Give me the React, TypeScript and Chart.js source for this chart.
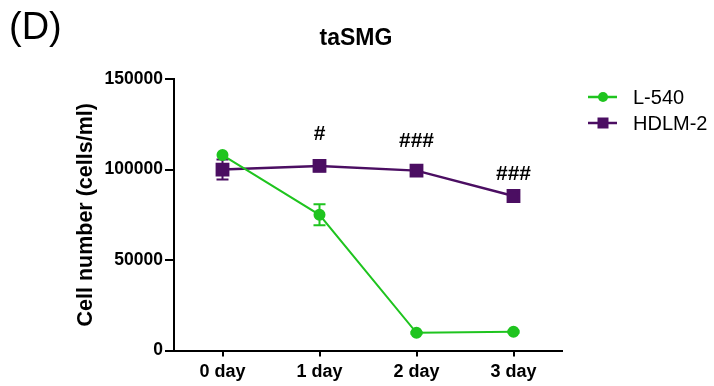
import { useEffect, useRef } from 'react';
import { Chart, registerables } from 'chart.js';

Chart.register(...registerables);

const categories = ['0 day', '1 day', '2 day', '3 day'];
const l540Values = [108000, 75000, 9800, 10400];
const l540Errors = [0, 5800, 500, 600];
const hdlmValues = [100000, 102000, 99400, 85400];
const hdlmErrors = [5500, 3000, 2000, 1500];
const sigLabels = ['', '#', '###', '###'];
const sigValues = [0, 119400, 115900, 97500];
const yTicks = [0, 50000, 100000, 150000];

const FONT = '"Liberation Sans", Arial, sans-serif';
const GREEN = '#1fc41f';
const PURPLE = '#4b0e62';

const errorBarPlugin = {
  id: 'errorBars',
  beforeDatasetsDraw(chart: any) {
    const ctx = chart.ctx;
    const y = chart.scales.y;
    chart.data.datasets.forEach((ds: any, i: number) => {
      const meta = chart.getDatasetMeta(i);
      ctx.save();
      ctx.strokeStyle = ds.borderColor;
      ctx.lineWidth = 2;
      meta.data.forEach((pt: any, j: number) => {
        const e = ds.errors[j];
        if (!e) return;
        const v = ds.data[j];
        const top = y.getPixelForValue(v + e);
        const bot = y.getPixelForValue(v - e);
        ctx.beginPath();
        ctx.moveTo(pt.x, top);
        ctx.lineTo(pt.x, bot);
        ctx.moveTo(pt.x - 6, top);
        ctx.lineTo(pt.x + 6, top);
        ctx.moveTo(pt.x - 6, bot);
        ctx.lineTo(pt.x + 6, bot);
        ctx.stroke();
      });
      ctx.restore();
    });
  },
};

const annotationPlugin = {
  id: 'annotations',
  afterDatasetsDraw(chart: any) {
    const ctx = chart.ctx;
    const x = chart.scales.x;
    const y = chart.scales.y;
    ctx.save();
    ctx.fillStyle = '#000';
    ctx.font = `bold 21px ${FONT}`;
    ctx.textAlign = 'center';
    ctx.textBaseline = 'middle';
    sigLabels.forEach((s, j) => {
      if (!s) return;
      ctx.fillText(s, x.getPixelForValue(j), y.getPixelForValue(sigValues[j]));
    });
    ctx.restore();
  },
};

const textPlugin = {
  id: 'texts',
  afterDraw(chart: any) {
    const ctx = chart.ctx;
    ctx.save();
    ctx.fillStyle = '#000';
    ctx.textBaseline = 'middle';
    ctx.textAlign = 'left';
    ctx.font = `38px ${FONT}`;
    ctx.fillText('(D)', 9, 29);
    ctx.textAlign = 'center';
    ctx.font = `bold 23px ${FONT}`;
    ctx.fillText('taSMG', 356, 39);
    // legend
    ctx.textAlign = 'left';
    ctx.font = `20px ${FONT}`;
    chart.data.datasets.forEach((ds: any, i: number) => {
      const cy = 97 + i * 26;
      ctx.strokeStyle = ds.borderColor;
      ctx.fillStyle = ds.borderColor;
      ctx.lineWidth = 2.5;
      ctx.beginPath();
      ctx.moveTo(588, cy);
      ctx.lineTo(617, cy);
      ctx.stroke();
      ctx.beginPath();
      if (ds.pointStyle === 'circle') {
        ctx.arc(603, cy, 5, 0, Math.PI * 2);
      } else {
        ctx.rect(597.5, cy - 5.5, 11, 11);
      }
      ctx.fill();
      ctx.fillStyle = '#000';
      ctx.fillText(ds.label, 633, cy + 1);
    });
    ctx.restore();
  },
};

export default function App() {
  const canvasRef = useRef<HTMLCanvasElement | null>(null);

  useEffect(() => {
    const canvas = canvasRef.current;
    if (!canvas) return;
    const chart = new Chart(canvas, {
      type: 'line',
      data: {
        labels: categories,
        datasets: [
          {
            label: 'L-540',
            data: l540Values,
            errors: l540Errors,
            borderColor: GREEN,
            backgroundColor: GREEN,
            pointBackgroundColor: GREEN,
            pointBorderColor: GREEN,
            pointStyle: 'circle',
            pointRadius: 5,
            borderWidth: 2,
            tension: 0,
          } as any,
          {
            label: 'HDLM-2',
            data: hdlmValues,
            errors: hdlmErrors,
            borderColor: PURPLE,
            backgroundColor: PURPLE,
            pointBackgroundColor: PURPLE,
            pointBorderColor: PURPLE,
            pointStyle: 'rect',
            pointRadius: 8,
            borderWidth: 2.5,
            tension: 0,
          } as any,
        ],
      },
      options: {
        responsive: false,
        animation: false,
        devicePixelRatio: 1,
        layout: { padding: { left: 69, top: 79, right: 152, bottom: 0 } },
        plugins: {
          legend: { display: false },
          title: { display: false },
          tooltip: { enabled: false },
        },
        scales: {
          x: {
            type: 'category',
            offset: true,
            afterFit: (s: any) => {
              s.height = 35.4;
            },
            grid: {
              display: true,
              drawOnChartArea: false,
              drawTicks: true,
              tickLength: 6,
              color: '#000',
              lineWidth: 2,
            },
            border: { display: true, color: '#000', width: 2 },
            ticks: {
              color: '#000',
              padding: 5,
              font: { family: FONT, size: 18, weight: 'bold' },
            },
          },
          y: {
            min: 0,
            max: 150000,
            afterFit: (s: any) => {
              s.width = 174 - 69;
            },
            afterBuildTicks: (s: any) => {
              s.ticks = yTicks.map((v) => ({ value: v }));
            },
            title: {
              display: true,
              text: 'Cell number (cells/ml)',
              color: '#000',
              font: { family: FONT, size: 21.5, weight: 'bold' },
              padding: { top: 4, bottom: 4 },
            },
            grid: {
              display: true,
              drawOnChartArea: false,
              drawTicks: true,
              tickLength: 9,
              color: '#000',
              lineWidth: 2,
            },
            border: { display: true, color: '#000', width: 2 },
            ticks: {
              color: '#000',
              padding: 2,
              font: { family: FONT, size: 17.5, weight: 'bold' },
              callback: (v: any) => String(v),
            },
          },
        },
      },
      plugins: [errorBarPlugin, annotationPlugin, textPlugin],
    });
    return () => chart.destroy();
  }, []);

  return (
    <div style={{ position: 'fixed', left: 0, top: 0, width: 714, height: 386, background: '#fff' }}>
      <canvas ref={canvasRef} width={714} height={386} style={{ display: 'block' }} />
    </div>
  );
}
